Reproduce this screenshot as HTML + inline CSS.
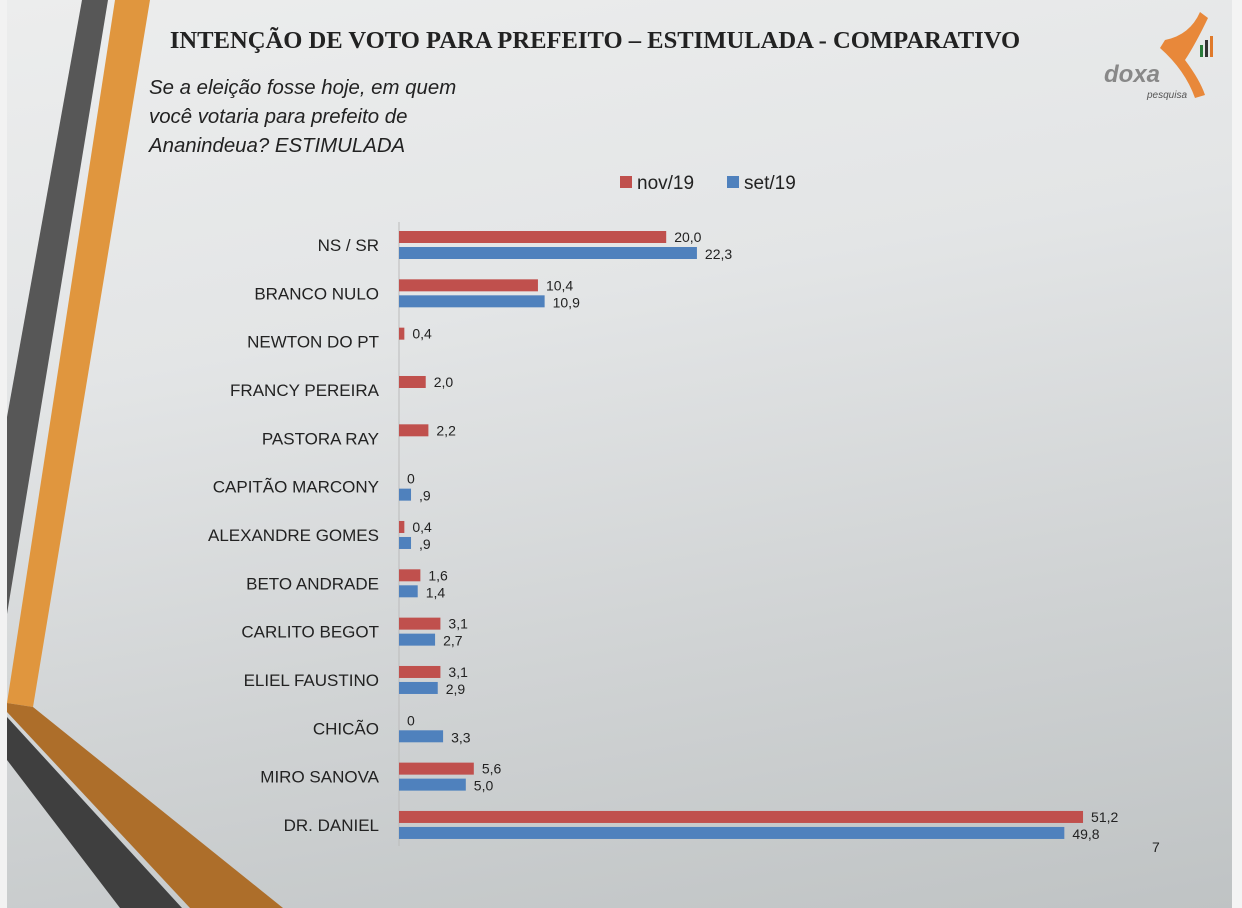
<!DOCTYPE html>
<html><head><meta charset="utf-8"><style>
body{margin:0;width:1242px;height:908px;overflow:hidden;font-family:"Liberation Sans",sans-serif;}
#bg{position:absolute;left:0;top:0;width:1242px;height:908px;background:linear-gradient(170deg,#eceded 0%,#e3e5e6 35%,#cfd2d3 70%,#bfc3c4 100%);}
</style></head><body>
<div id="bg"></div>
<svg width="1242" height="908" style="position:absolute;left:0;top:0">
<rect x="0" y="0" width="7" height="908" fill="#f2f2f2"/>
<rect x="1232" y="0" width="10" height="908" fill="#f4f4f4"/>
<polygon points="82,0 108,0 7,614 7,417" fill="#575757"/>
<polygon points="115,0 150,0 33,707 7,703" fill="#e0963e"/>
<polygon points="7,703 33,707 283,908 190,908 7,712" fill="#ad6e2a"/>
<polygon points="7,717 182,908 120,908 7,760" fill="#3f3f3f"/>
<text x="595" y="48" text-anchor="middle" font-family="Liberation Serif,serif" font-weight="bold" font-size="24.6" fill="#222">INTENÇÃO DE VOTO PARA PREFEITO – ESTIMULADA - COMPARATIVO</text>
<g font-size="20.4" font-style="italic" fill="#222">
<text x="149" y="94">Se a eleição fosse hoje, em quem</text>
<text x="149" y="123">você votaria para prefeito de</text>
<text x="149" y="152">Ananindeua? ESTIMULADA</text>
</g>
<g>
<path d="M1165,40 Q1190,35 1200,12 L1208,18 Q1195,45 1185,60 Q1200,80 1205,95 L1195,98 Q1185,70 1160,48 Z" fill="#e8883a"/>
<rect x="1200" y="45" width="3" height="12" fill="#2a7a3a"/><rect x="1205" y="40" width="3" height="17" fill="#333"/><rect x="1210" y="36" width="3" height="21" fill="#e07a2a"/>
<text x="1104" y="82" font-size="24" font-style="italic" fill="#888" font-weight="bold">doxa</text>
<text x="1147" y="98" font-size="10" font-style="italic" fill="#555">pesquisa</text>
</g>
<g>
<rect x="620" y="176" width="12" height="12" fill="#c0504d"/>
<text x="637" y="189" font-size="19" fill="#222">nov/19</text>
<rect x="727" y="176" width="12" height="12" fill="#4f81bd"/>
<text x="744" y="189" font-size="19" fill="#222">set/19</text>
</g>
<line x1="399" y1="222" x2="399" y2="846" stroke="#bbb"/>
<g id="plot"></g>
<text x="1152" y="852" font-size="14" fill="#222">7</text>
</svg>
<script>
const categories=["NS / SR","BRANCO NULO","NEWTON DO PT","FRANCY PEREIRA","PASTORA RAY","CAPITÃO MARCONY","ALEXANDRE GOMES","BETO ANDRADE","CARLITO BEGOT","ELIEL FAUSTINO","CHICÃO","MIRO SANOVA","DR. DANIEL"];
const nov19=[20.0,10.4,0.4,2.0,2.2,0,0.4,1.6,3.1,3.1,0,5.6,51.2];
const set19=[22.3,10.9,null,null,null,0.9,0.9,1.4,2.7,2.9,3.3,5.0,49.8];
const novLabels=["20,0","10,4","0,4","2,0","2,2","0","0,4","1,6","3,1","3,1","0","5,6","51,2"];
const setLabels=["22,3","10,9","","","",",9",",9","1,4","2,7","2,9","3,3","5,0","49,8"];
const NS="http://www.w3.org/2000/svg";
const x=v=>399+v*13.36;
const yc=i=>245+i*48.33;
const g=document.getElementById('plot');
function mk(t,a){const e=document.createElementNS(NS,t);for(const k in a)e.setAttribute(k,a[k]);g.appendChild(e);return e;}
categories.forEach((c,i)=>{
  const t=mk('text',{x:379,y:yc(i)+6,'text-anchor':'end','font-size':17,fill:'#222'});t.textContent=c;
  
  
  if(nov19[i]!==null){
    const r=mk('rect',{x:399,y:yc(i)-14,width:Math.max(0,x(nov19[i])-399),height:12,fill:'#c0504d'});
    
    
    const l=mk('text',{x:x(nov19[i])+8,y:yc(i)-3,'font-size':14,fill:'#222'});l.textContent=novLabels[i];
    
    
  }
  if(set19[i]!==null){
    const r=mk('rect',{x:399,y:yc(i)+2,width:x(set19[i])-399,height:12,fill:'#4f81bd'});
    
    
    const l=mk('text',{x:x(set19[i])+8,y:yc(i)+14,'font-size':14,fill:'#222'});l.textContent=setLabels[i];
    
    
  }
});
</script>
</body></html>
